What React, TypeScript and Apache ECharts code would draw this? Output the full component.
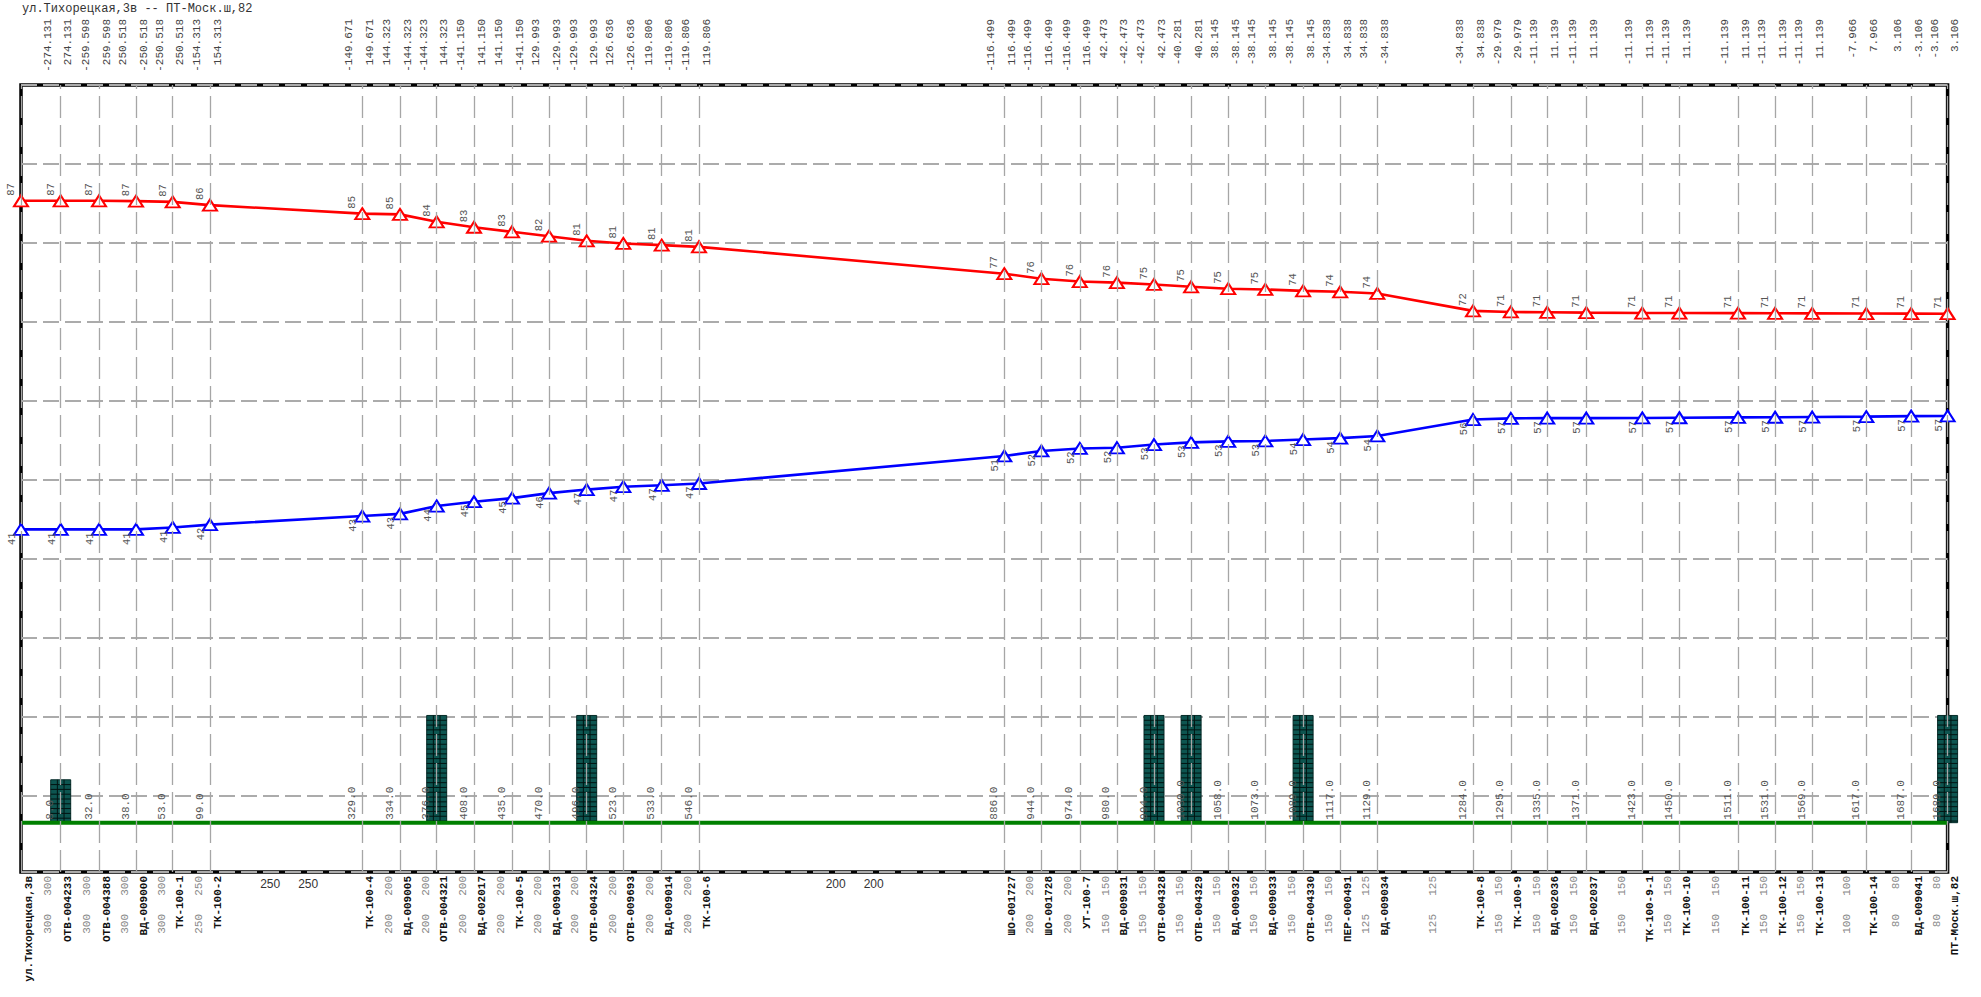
import React, { useEffect, useRef } from "react";
import * as echarts from "echarts";

const TITLE = "ул.Тихорецкая,3в -- ПТ-Моск.ш,82";

const NODE_NAMES = [
  "ул.Тихорецкая,3в", "ОТВ-004233", "ОТВ-004388", "ВД-009000", "ТК-100-1", "ТК-100-2",
  "ТК-100-4", "ВД-009005", "ОТВ-004321", "ВД-002017", "ТК-100-5", "ВД-009013", "ОТВ-004324",
  "ОТВ-009693", "ВД-009014", "ТК-100-6", "ШО-001727", "ШО-001728", "УТ-100-7", "ВД-009031",
  "ОТВ-004328", "ОТВ-004329", "ВД-009032", "ВД-009033", "ОТВ-004330", "ПЕР-000491", "ВД-009034",
  "ТК-100-8", "ТК-100-9", "ВД-002036", "ВД-002037", "ТК-100-9-1", "ТК-100-10", "ТК-100-11",
  "ТК-100-12", "ТК-100-13", "ТК-100-14", "ВД-009041", "ПТ-Моск.ш,82",
];

// position of each node along the drawn profile (drawing units)
const NODE_POS = [
  0, 39.7, 78, 115, 151.7, 189, 341.3, 379, 415.7, 453, 491, 528, 565.7, 602.3, 640.7, 678,
  983.3, 1020.4, 1058.8, 1095.9, 1133, 1170.1, 1207.2, 1244.3, 1282.1, 1319.2, 1356.3,
  1452, 1489.8, 1526.2, 1565.3, 1621.3, 1658.4, 1717, 1754.1, 1791.2, 1845.3, 1890.2, 1926.6,
];

// supply-line head, m
const SUPPLY_HEAD = [
  87.0, 87.0, 87.0, 86.95, 86.85, 86.4, 85.2, 85.1, 84.06, 83.3, 82.66, 82.05, 81.4, 81.03, 80.8, 80.56,
  76.8, 76.1, 75.7, 75.55, 75.3, 74.97, 74.7, 74.6, 74.4, 74.27, 74.04,
  71.6, 71.45, 71.4, 71.35, 71.3, 71.3, 71.28, 71.26, 71.25, 71.23, 71.22, 71.2,
];

// return-line head, m
const RETURN_HEAD = [
  41.03, 41.03, 41.03, 41.03, 41.3, 41.7, 42.9, 43.2, 44.3, 44.9, 45.4, 46.1, 46.6, 47.0, 47.2, 47.45,
  51.3, 52.0, 52.35, 52.45, 52.9, 53.2, 53.35, 53.4, 53.6, 53.8, 54.1,
  56.4, 56.56, 56.6, 56.6, 56.62, 56.65, 56.7, 56.72, 56.75, 56.8, 56.88, 56.9,
];

// ground elevation
const GROUND = [
  0, 0, 0, 0, 0, 0, 0, 0, 0, 0, 0, 0, 0, 0, 0, 0, 0, 0, 0, 0,
  0, 0, 0, 0, 0, 0, 0, 0, 0, 0, 0, 0, 0, 0, 0, 0, 0, 0, 0,
];

// chainage at nodes 2..39
const DISTANCE = [
  "8.0", "32.0", "38.0", "53.0", "99.0", "329.0", "334.0", "376.0", "408.0", "435.0", "470.0", "496.0",
  "523.0", "533.0", "546.0", "886.0", "944.0", "974.0", "980.0", "994.0", "1030.0", "1058.0", "1073.0",
  "1089.0", "1117.0", "1129.0", "1284.0", "1295.0", "1335.0", "1371.0", "1423.0", "1450.0", "1511.0",
  "1531.0", "1569.0", "1617.0", "1687.0", "1689.0",
];

// flow labels at nodes 2..39 (left of node line, right of node line)
const FLOW_LEFT = [
  "-274.131", "-259.598", "250.518", "-250.518", "-154.313",
  "-149.671", "144.323", "-144.323", "-141.150", "141.150", "129.993", "-129.993", "126.636", "119.806", "-119.806",
  "-116.499", "-116.499", "-116.499", "42.473", "-42.473", "-40.281", "38.145", "-38.145", "-38.145", "-34.838", "34.838",
  "-34.838", "-29.979", "-11.139", "-11.139", "-11.139", "-11.139", "-11.139", "-11.139", "-11.139", "-7.966", "3.106", "-3.106",
];
const FLOW_RIGHT = [
  "274.131", "259.598", "-250.518", "250.518", "154.313",
  "149.671", "-144.323", "144.323", "141.150", "-141.150", "-129.993", "129.993", "-126.636", "-119.806", "119.806",
  "116.499", "116.499", "116.499", "-42.473", "42.473", "40.281", "-38.145", "38.145", "38.145", "34.838", "-34.838",
  "34.838", "29.979", "11.139", "11.139", "11.139", "11.139", "11.139", "11.139", "11.139", "7.966", "-3.106", "3.106",
];

// pipe diameters per segment (supply / return), mm
const DIAM_SUPPLY = [
  300, 300, 300, 300, 250, 250, 200, 200, 200, 200, 200, 200, 200, 200, 200, 200, 200, 200,
  150, 150, 150, 150, 150, 150, 150, 125, 125, 150, 150, 150, 150, 150, 150, 150, 150, 100, 80, 80,
];
const DIAM_RETURN = [
  300, 300, 300, 300, 250, 250, 200, 200, 200, 200, 200, 200, 200, 200, 200, 200, 200, 200,
  150, 150, 150, 150, 150, 150, 150, 125, 125, 150, 150, 150, 150, 150, 150, 150, 150, 100, 80, 80,
];

// chambers drawn as hatched columns (node index, height in m)
const CHAMBER_NODE = [1, 8, 12, 20, 21, 24, 38];
const CHAMBER_HEIGHT = [6, 15, 15, 15, 15, 15, 15];

const Y_MIN = -6.9;
const Y_MAX = 103.2;

const MONO = "'Liberation Mono', 'DejaVu Sans Mono', monospace";
const SANS = "'Liberation Sans', Arial, sans-serif";

function textEl(x: number, y: number, text: string, font: string, fill: string, align: string, rot = Math.PI / 2) {
  return {
    type: "text",
    x,
    y,
    rotation: rot,
    silent: true,
    style: {
      text,
      font,
      fill,
      align,
      verticalAlign: "middle",
      textAlign: align,
      textVerticalAlign: "middle",
    },
  };
}

export default function App() {
  const ref = useRef<HTMLDivElement>(null);

  useEffect(() => {
    if (!ref.current) return;
    const chart = echarts.init(ref.current, undefined, { renderer: "svg" });
    const n = NODE_POS.length;
    const TOP_LABEL_Y = 19;
    const BOTTOM_Y = 876;

    const xyData = (arr: number[]) => NODE_POS.map((p, i) => [p, arr[i]]);

    const headLine = (name: string, data: number[], color: string) => ({
      type: "line",
      name,
      data: xyData(data),
      symbol: "triangle",
      symbolSize: [14, 11],
      showAllSymbol: true,
      lineStyle: { color, width: 2.6 },
      itemStyle: { color: "#fff", borderColor: color, borderWidth: 2 },
      z: 4,
      label: { show: false },
    });

    const headLabels = (data: number[], above: boolean) => ({
      type: "custom",
      silent: true,
      z: 6,
      data: xyData(data),
      renderItem: (params: any, api: any) => {
        const p = api.coord([api.value(0), api.value(1)]);
        const v = Math.round(api.value(1)).toString();
        return above
          ? textEl(p[0] - 10, p[1] - 5, v, `10.5px ${MONO}`, "#555", "left")
          : textEl(p[0] - 9, p[1] + 3, v, `10.5px ${MONO}`, "#555", "right");
      },
    });

    const series: any[] = [
      {
        type: "line",
        name: "ground",
        data: xyData(GROUND),
        symbol: "none",
        lineStyle: { color: "#008000", width: 4 },
        z: 3,
        markLine: {
          silent: true,
          symbol: "none",
          label: { show: false },
          lineStyle: { color: "#a6a6a6", width: 1.3, type: [22, 7] },
          data: NODE_POS.map((p) => ({ xAxis: p })),
        },
      },
      {
        type: "custom",
        name: "chambers",
        z: 3,
        silent: true,
        data: CHAMBER_NODE.map((ni, i) => [NODE_POS[ni], CHAMBER_HEIGHT[i]]),
        renderItem: (params: any, api: any) => {
          const top = api.coord([api.value(0), api.value(1)]);
          const base = api.coord([api.value(0), 0]);
          const w = 20;
          const left = top[0] - w / 2;
          const h = base[1] - top[1];
          const children: any[] = [
            {
              type: "rect",
              shape: { x: left, y: top[1], width: w, height: h },
              style: { fill: "#0d5550", stroke: "#052b28", lineWidth: 1 },
            },
          ];
          for (let k = 1; k < 3; k++) {
            children.push({
              type: "line",
              shape: { x1: left + (w * k) / 3, y1: top[1], x2: left + (w * k) / 3, y2: base[1] },
              style: { stroke: "#021412", lineWidth: 1 },
            });
          }
          for (let yy = top[1] + 4.8; yy < base[1] - 1; yy += 4.8) {
            children.push({
              type: "line",
              shape: { x1: left, y1: yy, x2: left + w, y2: yy },
              style: { stroke: "#021412", lineWidth: 1 },
            });
          }
          return { type: "group", children };
        },
      },
      headLine("supply", SUPPLY_HEAD, "#ff0000"),
      headLine("return", RETURN_HEAD, "#0000ff"),
      headLabels(SUPPLY_HEAD, true),
      headLabels(RETURN_HEAD, false),
      // chainage labels
      {
        type: "custom",
        silent: true,
        z: 6,
        data: NODE_POS.slice(1).map((p) => [p, 0]),
        renderItem: (params: any, api: any) => {
          const p = api.coord([api.value(0), api.value(1)]);
          return textEl(p[0] - 10.5, p[1] - 3, DISTANCE[params.dataIndex], `11px ${MONO}`, "#555", "left");
        },
      },
      // flow labels on top
      {
        type: "custom",
        silent: true,
        z: 6,
        data: NODE_POS.slice(1).map((p) => [p, 0]),
        renderItem: (params: any, api: any) => {
          const p = api.coord([api.value(0), api.value(1)]);
          const i = params.dataIndex;
          return {
            type: "group",
            children: [
              textEl(p[0] - 13, TOP_LABEL_Y, FLOW_LEFT[i], `11px ${MONO}`, "#444", "right"),
              textEl(p[0] + 7.5, TOP_LABEL_Y, FLOW_RIGHT[i], `11px ${MONO}`, "#444", "right"),
            ],
          };
        },
      },
      // node names
      {
        type: "custom",
        silent: true,
        z: 6,
        data: NODE_POS.map((p) => [p, 0]),
        renderItem: (params: any, api: any) => {
          const p = api.coord([api.value(0), api.value(1)]);
          return textEl(p[0] + 7.5, BOTTOM_Y, NODE_NAMES[params.dataIndex], `bold 11px ${MONO}`, "#111", "right");
        },
      },
      // diameters
      {
        type: "custom",
        silent: true,
        z: 6,
        data: NODE_POS.slice(1).map((p, i) => [(NODE_POS[i] + p) / 2, 0, NODE_POS[i], p]),
        renderItem: (params: any, api: any) => {
          const i = params.dataIndex;
          const a = api.coord([api.value(2), 0]);
          const b = api.coord([api.value(3), 0]);
          const mid = (a[0] + b[0]) / 2;
          if (b[0] - a[0] > 110) {
            return {
              type: "group",
              children: [
                textEl(mid - 16, 884, String(DIAM_SUPPLY[i]), `12px ${SANS}`, "#333", "center", 0),
                textEl(mid + 22, 884, String(DIAM_RETURN[i]), `12px ${SANS}`, "#333", "center", 0),
              ],
            };
          }
          return {
            type: "group",
            children: [
              textEl(mid + 7.5, BOTTOM_Y, String(DIAM_SUPPLY[i]), `11px ${MONO}`, "#888", "right"),
              textEl(mid + 7.5, 914, String(DIAM_RETURN[i]), `11px ${MONO}`, "#888", "right"),
            ],
          };
        },
      },
    ];

    chart.setOption({
      animation: false,
      backgroundColor: "#fff",
      title: {
        text: TITLE,
        left: 22,
        top: 3,
        padding: 0,
        textStyle: { fontFamily: MONO, fontSize: 12, fontWeight: "normal", color: "#333" },
      },
      grid: {
        left: 21,
        right: 33.4,
        top: 85,
        bottom: 997 - 872,
        show: true,
        borderColor: "#000",
        borderWidth: 3.5,
        backgroundColor: "transparent",
      },
      xAxis: {
        type: "value",
        min: 0,
        max: NODE_POS[n - 1],
        show: false,
        splitLine: { show: false },
      },
      yAxis: [
        {
          type: "value",
          min: Y_MIN,
          max: Y_MAX,
          axisLine: { show: false },
          axisTick: { show: false },
          axisLabel: { show: false },
          splitLine: { show: false },
        },
        {
          type: "value",
          inverse: true,
          min: 0,
          max: 787 / 79,
          interval: 1,
          axisLine: { show: false },
          axisTick: { show: false },
          axisLabel: { show: false },
          splitLine: { show: true, lineStyle: { color: "#ababab", width: 2, type: [16, 6] } },
        },
      ],
      series,
    });
    return () => chart.dispose();
  }, []);

  return (
    <div
      ref={ref}
      style={{ position: "absolute", left: 0, top: 0, width: 1981, height: 997, background: "#fff" }}
    />
  );
}
